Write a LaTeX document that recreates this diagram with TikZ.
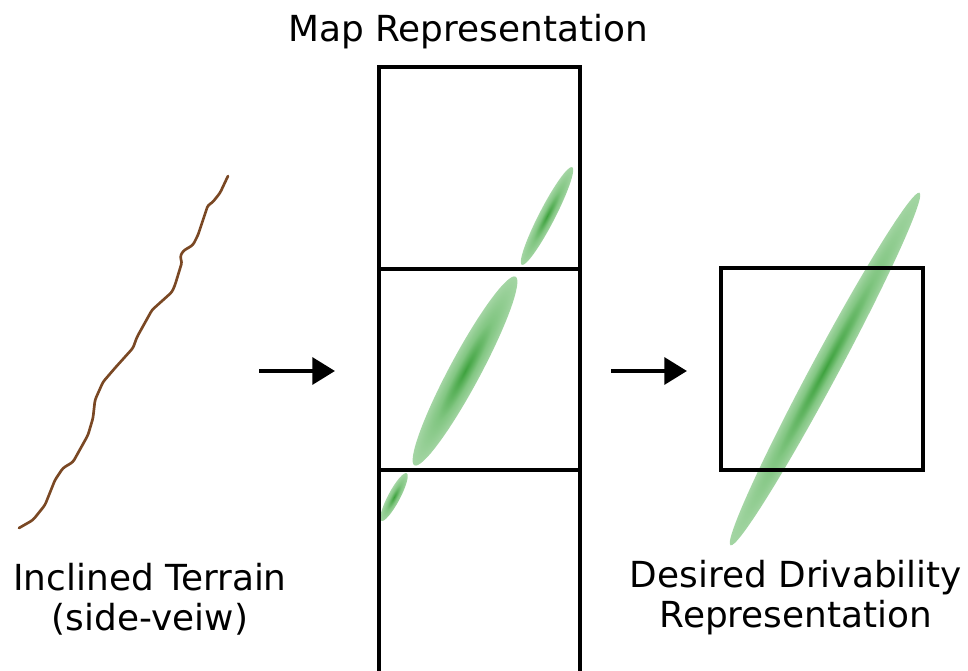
\documentclass[tikz,border=0pt]{standalone}
\usepackage{fontspec}
\setmainfont{DejaVu Sans}
\usetikzlibrary{arrows.meta}

% Gaussian-like green blob: dark centre fading to a pale rim
\definecolor{gcore}{RGB}{62,162,62}
\definecolor{gmid}{RGB}{130,198,130}
\definecolor{gsoft}{RGB}{172,217,172}
\definecolor{grim}{RGB}{204,233,204}
\definecolor{soil}{RGB}{122,72,36}
\pgfdeclareradialshading{gaussblob}{\pgfpoint{0bp}{0bp}}{%
  color(0bp)=(gcore); color(13bp)=(gmid); color(28bp)=(gsoft);
  color(45bp)=(grim); color(50bp)=(grim)}

% \blob{cx}{cy}{semi-major px}{semi-minor px}{angle}
\newcommand{\blob}[5]{%
  \begin{scope}[transform canvas={shift={(#1,#2)},rotate=#5,
      xscale=#3*0.75,yscale=#4*0.75}]
    \shade[shading=gaussblob] (0,0) circle (1pt);
  \end{scope}}

\tikzset{
  cell/.style={draw=black,line width=2.3pt},
  flow/.style={line width=3.2pt,-{Triangle[length=17pt,width=20pt]}},
  label/.style={font=\fontsize{26.9}{30}\selectfont,align=center,inner sep=0pt},
  terrain/.style={draw=soil,line width=2pt,line join=round,line cap=round,
    rounded corners=2pt},
}

\begin{document}
\begin{tikzpicture}[x=0.75pt,y=-0.75pt]
\useasboundingbox (0,0) rectangle (968,671);

% side view of the slope
\draw[terrain] (19,528) -- (33,520) -- (45,505) -- (55,480) -- (63,468)
  -- (73,462) -- (88,435) -- (93,418) -- (95,400) -- (103,382) -- (115,368)
  -- (133,348) -- (137,337) -- (152,310) -- (172,292) -- (175,285)
  -- (182,262) -- (180,257) -- (183,251) -- (193,245) -- (198,235)
  -- (208,205) -- (212,203) -- (220,193) -- (228,176);

% drivability blobs in the map cells
\blob{547}{216}{55}{8}{62.7}
\blob{465}{371}{107}{15.5}{61.8}
\blob{394}{497}{27}{6}{62}
% drivability blob across the desired cell
\blob{825}{369}{200}{13.5}{61.8}

% stacked map cells
\coordinate (mtl) at (379,67);
\coordinate (mtr) at (580,67);
\coordinate (mbl) at (379,671);
\coordinate (mbr) at (580,671);
\coordinate (m1l) at (379,269);
\coordinate (m1r) at (580,269);
\coordinate (m2l) at (379,470);
\coordinate (m2r) at (580,470);
\draw[cell,line join=miter] (mbl) -- (mtl) -- (mtr) -- (mbr);
\draw[cell] (m1l) -- (m1r);
\draw[cell] (m2l) -- (m2r);

% desired single cell
\node[cell,minimum width=202*0.75pt,minimum height=202*0.75pt,inner sep=0pt]
  (dcell) at (822,369) {};

% arrows between stages
\coordinate (a1s) at (259,371);
\coordinate (a1e) at (335,371);
\coordinate (a2s) at (611,371);
\coordinate (a2e) at (687,371);
\draw[flow] (a1s) -- (a1e);
\draw[flow] (a2s) -- (a2e);

% captions (base anchor sits on the last line)
\node[label,anchor=base] (tmap) at (468,41) {Map Representation};
\node[label,anchor=base] (tterr) at (150,630) {Inclined Terrain\\(side-veiw)};
\node[label,anchor=base] (tdes) at (796,627) {Desired Drivability\\Representation};
\end{tikzpicture}
\end{document}
